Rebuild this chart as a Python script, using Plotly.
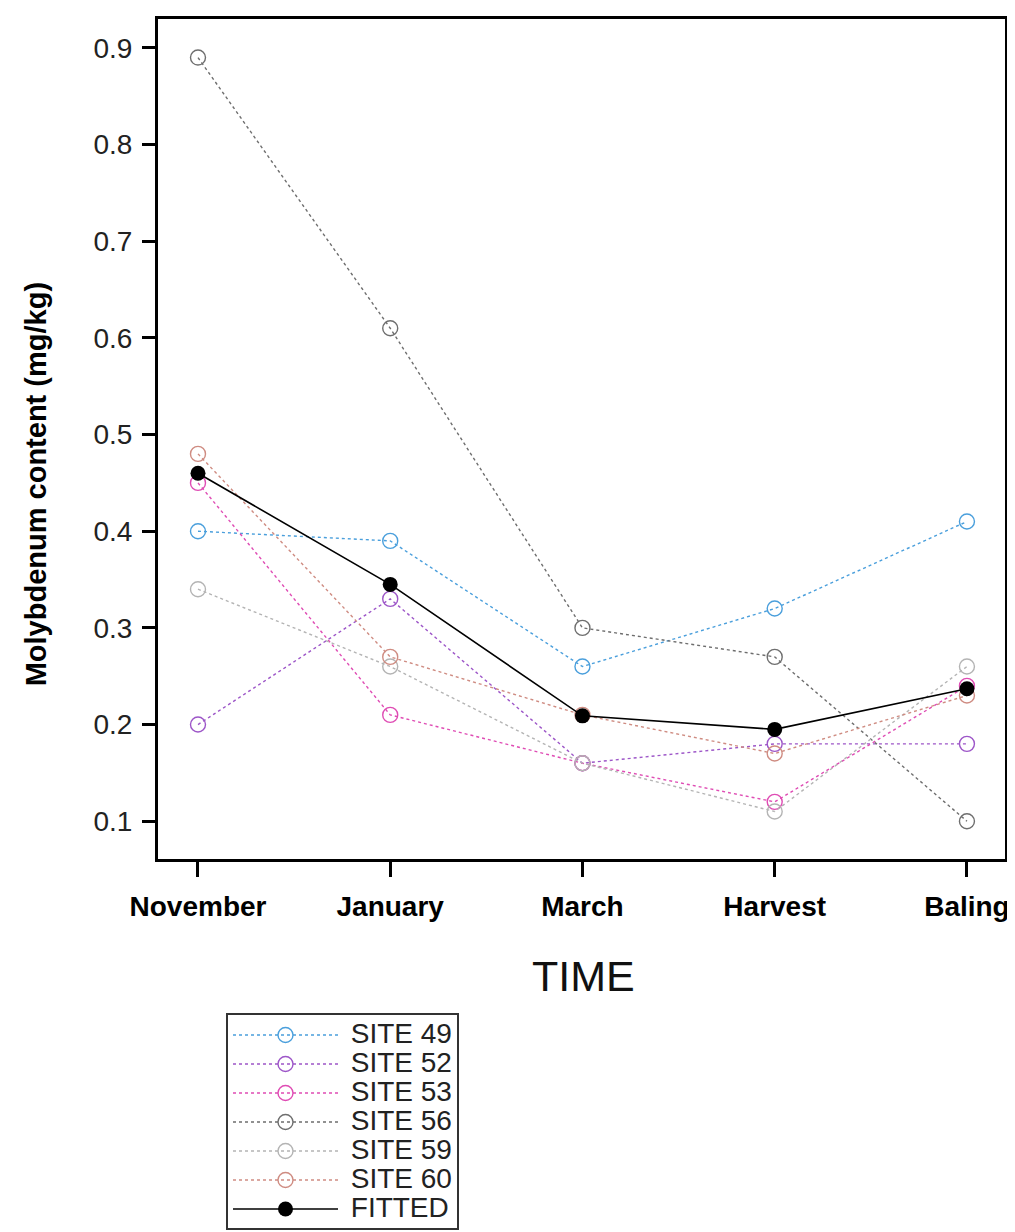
import plotly.graph_objects as go

times = ["November", "January", "March", "Harvest", "Baling"]
site_names = ["SITE 49", "SITE 52", "SITE 53", "SITE 56", "SITE 59", "SITE 60"]
site49 = [0.40, 0.39, 0.26, 0.32, 0.41]
site52 = [0.20, 0.33, 0.16, 0.18, 0.18]
site53 = [0.45, 0.21, 0.16, 0.12, 0.24]
site56 = [0.89, 0.61, 0.30, 0.27, 0.10]
site59 = [0.34, 0.26, 0.16, 0.11, 0.26]
site60 = [0.48, 0.27, 0.21, 0.17, 0.23]
fitted = [0.46, 0.345, 0.209, 0.195, 0.237]
yticks = [0.1, 0.2, 0.3, 0.4, 0.5, 0.6, 0.7, 0.8, 0.9]

site_values = [site49, site52, site53, site56, site59, site60]
site_colors = ["#4a9fdc", "#9d56c8", "#df4cb4", "#6e6e6e", "#b4b4b4", "#cf8c82"]

FONT = "Arial, Liberation Sans, sans-serif"
xi = list(range(len(times)))


def legend_label(name):
    return f'<span style="font-size:28px"> {name}</span>'


fig = go.Figure()
for name, vals, col in zip(site_names, site_values, site_colors):
    fig.add_trace(go.Scatter(
        x=xi, y=vals, mode="lines+markers",
        name=legend_label(name),
        line=dict(color=col, width=1.4, dash="3px,3px"),
        marker=dict(symbol="circle-open", size=15, color=col, line=dict(width=1.4, color=col)),
    ))
fig.add_trace(go.Scatter(
    x=xi, y=fitted, mode="lines+markers",
    name=legend_label("FITTED"),
    line=dict(color="black", width=1.6),
    marker=dict(symbol="circle", size=15, color="black"),
))

fig.update_layout(
    width=1015, height=1232,
    margin=dict(l=150, r=18, t=8, b=381),
    paper_bgcolor="white", plot_bgcolor="white",
    font=dict(family=FONT, color="black"),
    showlegend=True,
    legend=dict(
        x=(218 - 150) / 847, y=-(1006 - 851) / 843,
        xanchor="left", yanchor="top",
        font=dict(size=20, family=FONT, color="#222"),
        bordercolor="#333", borderwidth=2,
        bgcolor="white",
        itemwidth=105,
        tracegroupgap=0,
    ),
    xaxis=dict(
        range=[-0.208, 4.198],
        tickmode="array", tickvals=xi, ticktext=times,
        tickfont=dict(size=28, family=FONT, color="black", weight="bold"),
        ticks="outside", ticklen=15, tickwidth=2.5, tickcolor="black",
        showline=True, linecolor="black", linewidth=3, mirror=True,
        showgrid=False, zeroline=False,
        ticklabelstandoff=5,
    ),
    yaxis=dict(
        range=[0.0609, 0.9299],
        tickmode="array", tickvals=yticks,
        ticktext=[f"{v:.1f}" for v in yticks],
        tickfont=dict(size=28, family=FONT, color="#222"),
        ticks="outside", ticklen=13, tickwidth=2.5, tickcolor="black",
        showline=True, linecolor="black", linewidth=3, mirror=True,
        showgrid=False, zeroline=False,
        ticklabelstandoff=4,
    ),
    annotations=[
        dict(text="<b>Molybdenum content (mg/kg)</b>", textangle=-90,
             xref="paper", yref="paper", x=(28 - 150) / 847, y=(851 - 475) / 843,
             xanchor="center", yanchor="middle", showarrow=False,
             font=dict(size=29, family=FONT, color="black")),
        dict(text="TIME", xref="paper", yref="paper",
             x=(575 - 150) / 847, y=-(968 - 851) / 843,
             xanchor="center", yanchor="middle", showarrow=False,
             font=dict(size=43, family=FONT, color="#111")),
    ],
)

fig.write_html("out.html")
